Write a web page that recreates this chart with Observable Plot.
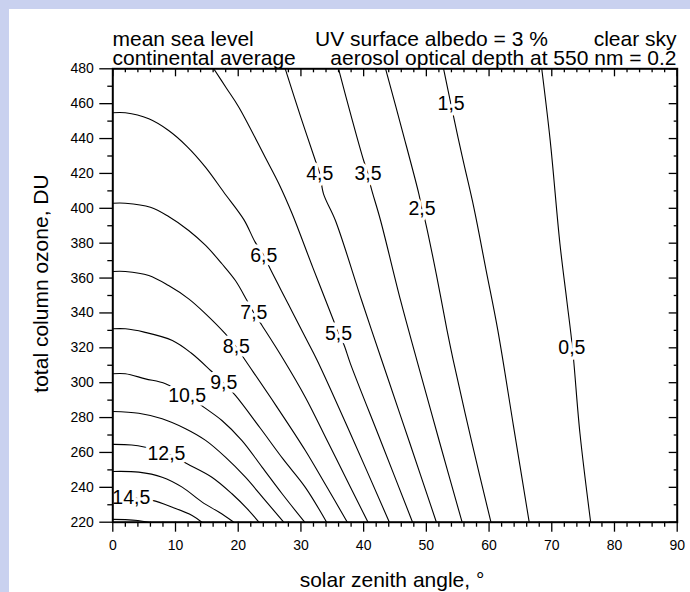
<!DOCTYPE html>
<html>
<head>
<meta charset="utf-8">
<script src="https://cdn.jsdelivr.net/npm/d3@7"></script>
<script src="https://cdn.jsdelivr.net/npm/@observablehq/plot@0.6"></script>
<style>
  html, body { margin: 0; padding: 0; background: #c9d1ef; }
  body { width: 690px; height: 592px; overflow: hidden; position: relative;
         font-family: "Liberation Sans", Arial, Helvetica, sans-serif; }
  #panel { position: absolute; left: 9px; top: 9px; width: 681px; height: 583px; background: #fff; }
  .hd { position: absolute; font-size: 21px; line-height: 17px; white-space: nowrap; color: #000; }
  #chart { position: absolute; left: 0; top: 0; }
</style>
</head>
<body>
<div id="panel">
  <div class="hd" style="left:103.5px; top:21.2px;">mean sea level</div>
  <div class="hd" style="left:306px; top:21.2px;">UV surface albedo = 3 %</div>
  <div class="hd" style="right:13.5px; top:21.2px;">clear sky</div>
  <div class="hd" style="left:103.5px; top:40.2px;">continental average</div>
  <div class="hd" style="right:13.5px; top:40.2px;">aerosol optical depth at 550 nm = 0.2</div>
  <div id="chart"></div>
</div>
<script>
// ---- data ----
// contour levels (UV index)
const levels = [0.5, 1.5, 2.5, 3.5, 4.5, 5.5, 6.5, 7.5, 8.5, 9.5, 10.5, 11.5, 12.5, 13.5, 14.5, 15.5];

// points [solar zenith angle (deg), total ozone (DU)] along each contour
const contour_0_5 = [[68.4,480],[69.75,438.8],[71.3,379.7],[72.4,347],[73.3,320],[74.5,270.7],[76.2,220]];
const contour_1_5 = [[52.75,480],[53.9,460],[55.7,430],[57.6,400],[59.5,365],[61.4,330],[63.9,275],[66.4,220]];
const contour_2_5 = [[43.5,480],[46.2,444],[48.8,408.3],[49.3,399.7],[49.8,393],[51.6,362],[53.3,330],[54.3,312.7],[57.3,265],[60.3,220]];
const contour_3_5 = [[36.0,480],[38.0,453],[40.0,427.4],[40.7,420],[41.1,413],[42.7,393],[45.9,347],[48.5,312.7],[52.1,266],[55.7,220]];
const contour_4_5 = [[27.5,480],[30.0,452],[32.3,427.4],[33.0,420],[33.6,408.3],[35.5,393],[39.7,347],[42.9,312.7],[47.3,266],[51.6,220]];
const contour_5_5 = [[16.1,480],[18.1,469],[20.1,458],[24.3,429.3],[26.5,414],[28.6,396.9],[31.9,366],[35.2,335.7],[36.0,328],[36.8,322.3],[37.9,310.8],[42.9,265],[47.8,220]];
const contour_6_5 = [[0,454.8],[2,454.8],[5.74,451.3],[8.9,444.6],[11.85,435.4],[14.77,423.6],[17.7,409.2],[20.9,393.5],[22.7,380.6],[24.1,372.9],[25.1,365.3],[28,345],[30.7,326],[32.6,312.7],[37.9,270.7],[44.1,220]];
const contour_7_5 = [[0,402.9],[2,402.9],[6.0,400.6],[8.9,395.3],[12.1,387.3],[14.8,378.7],[17.4,368.2],[19.55,358.6],[21.4,347.1],[22.5,340],[23.8,332.8],[27.0,314.6],[30.7,291.7],[34.3,266],[37.9,240],[40.7,220]];
const contour_8_5 = [[0,363.8],[2,363.8],[5.74,361.5],[8.9,355.7],[12.1,348.1],[14.8,339.5],[17.96,328],[19.7,320.4],[21.15,312.7],[26,287],[30.7,261.1],[34,241],[37.4,220]];
const contour_9_5 = [[0,330.9],[2,330.9],[5,329],[9.5,324.2],[12.5,317],[15.6,307],[17.7,299.8],[19.55,292.7],[23.5,274],[27.2,256],[30.7,240],[34.1,220]];
const contour_10_5 = [[0,305.1],[2,305.1],[5.2,302.2],[8.4,299.4],[11.9,292.7],[14.5,286],[17.4,278.3],[20.6,266.8],[23.8,251.6],[27.0,236.3],[30.6,220]];
const contour_11_5 = [[0,283.5],[4.14,282.5],[7.87,279.3],[11.6,273.6],[14.8,266.9],[17.96,257.3],[21.15,245.8],[24.3,232.5],[27.25,220]];
const contour_12_5 = [[0,264.6],[3,264.3],[5.2,263],[8.6,259.7],[11.85,253.5],[15.8,245.8],[19.0,236.3],[21.7,226.7],[23.3,220]];
const contour_13_5 = [[0,249.1],[4.14,248.7],[7.87,245.8],[11.06,240.1],[14.25,231.5],[16.9,225.8],[19.3,220]];
const contour_14_5 = [[0,235],[3,234],[6.3,232.5],[9.5,228.6],[12.65,223.9],[14.2,220]];
const contour_15_5 = [[0,221.6],[2,221.5],[4,221],[5.7,220]];

const contourPoints = [contour_0_5, contour_1_5, contour_2_5, contour_3_5, contour_4_5, contour_5_5,
  contour_6_5, contour_7_5, contour_8_5, contour_9_5, contour_10_5, contour_11_5, contour_12_5,
  contour_13_5, contour_14_5, contour_15_5];

// contour labels
const labelTexts = ["0,5","1,5","2,5","3,5","4,5","5,5","6,5","7,5","8,5","9,5","10,5","12,5","14,5"];
const labelSza   = [73.2, 53.95, 49.3, 40.7, 33.0, 36.0, 24.07, 22.5, 19.7, 17.7, 11.85, 8.55, 2.95];
const labelOzone = [319.9, 459.9, 399.7, 420, 420, 328, 372.9, 340, 320.4, 299.8, 292.7, 259.5, 233.9];

// axis ticks
const xTicks = [0, 10, 20, 30, 40, 50, 60, 70, 80, 90];
const xMinorTicks = d3.range(0, 91, 2).filter(d => d % 10 !== 0);
const yTicks = [220, 240, 260, 280, 300, 320, 340, 360, 380, 400, 420, 440, 460, 480];
const yMinorTicks = [230, 250, 270, 290, 310, 330, 350, 370, 390, 410, 430, 450, 470];

// ---- build tables ----
const rows = levels.flatMap((lv, i) => contourPoints[i].map(([s, o]) => ({level: lv, sza: s, ozone: o})));
const labels = labelTexts.map((t, i) => ({label: t, sza: labelSza[i], ozone: labelOzone[i]}));

const W = 681, H = 583;
const mL = 103.3, mR = 13.3, mT = 59.3, mB = 70.3;
const plotW = W - mL - mR, plotH = H - mT - mB;
const font = "Liberation Sans, Arial, Helvetica, sans-serif";

const chart = Plot.plot({
  width: W, height: H,
  marginLeft: mL, marginRight: mR, marginTop: mT, marginBottom: mB,
  x: {domain: [0, 90]},
  y: {domain: [220, 480]},
  style: {fontFamily: font, background: "transparent", color: "black"},
  marks: [
    Plot.line(rows, {x: "sza", y: "ozone", z: "level", stroke: "black", strokeWidth: 1.1, curve: "catmull-rom"}),
    Plot.text(labels, {x: "sza", y: "ozone", text: "label", fontSize: 19.5, fill: "black",
      stroke: "white", strokeWidth: 7, paintOrder: "stroke"}),
    // bottom axis (outward ticks + labels)
    Plot.axisX(xTicks, {anchor: "bottom", tickSize: 10, tickPadding: 8, fontSize: 14, label: null, strokeWidth: 1.3}),
    Plot.axisX(xMinorTicks, {anchor: "bottom", tickSize: 5, tickFormat: () => "", label: null, strokeWidth: 1.3}),
    // top inward ticks
    Plot.tickX(xTicks, {x: d => d, insetBottom: plotH - 8, stroke: "black", strokeWidth: 1.3}),
    Plot.tickX(xMinorTicks, {x: d => d, insetBottom: plotH - 4, stroke: "black", strokeWidth: 1.3}),
    // left axis (outward ticks + labels)
    Plot.axisY(yTicks, {anchor: "left", tickSize: 13, tickPadding: 6, fontSize: 14, label: null, strokeWidth: 1.3}),
    Plot.axisY(yMinorTicks, {anchor: "left", tickSize: 5, tickFormat: () => "", label: null, strokeWidth: 1.3}),
    // right inward ticks
    Plot.tickY(yTicks, {y: d => d, insetLeft: plotW - 8, stroke: "black", strokeWidth: 1.3}),
    Plot.tickY(yMinorTicks, {y: d => d, insetLeft: plotW - 3, stroke: "black", strokeWidth: 1.3}),
    Plot.frame({stroke: "black", strokeWidth: 2}),
    // axis titles
    Plot.text(["solar zenith angle, °"], {frameAnchor: "bottom", dx: -3, dy: 65, fontSize: 21, fill: "black", lineAnchor: "bottom"}),
    Plot.text(["total column ozone, DU"], {frameAnchor: "left", rotate: -90, dx: -72, dy: -12, fontSize: 21, fill: "black", textAnchor: "middle"})
  ]
});
document.getElementById("chart").appendChild(chart);
</script>
</body>
</html>
